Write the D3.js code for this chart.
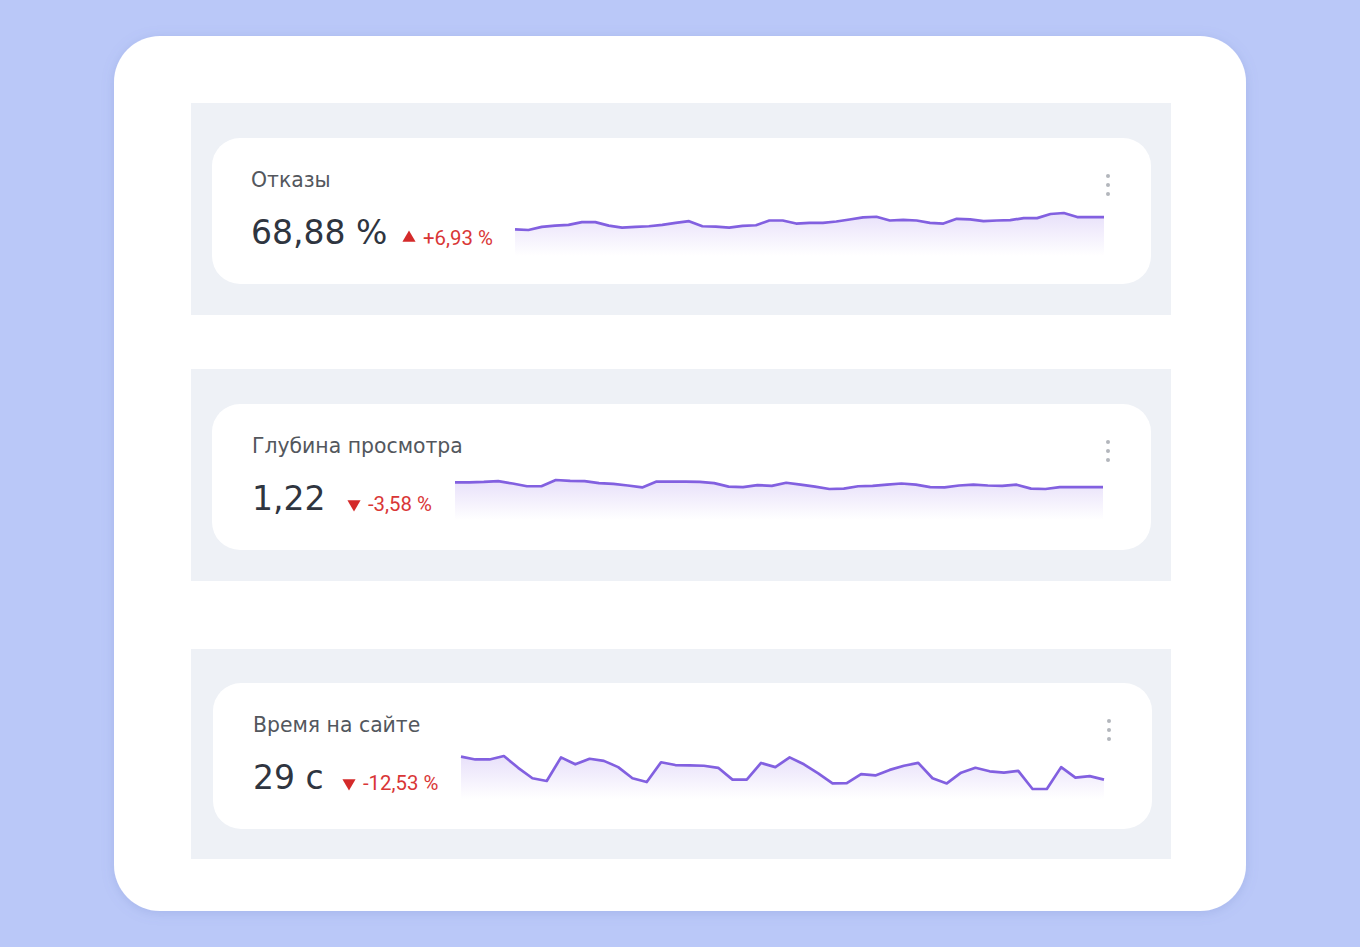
<!DOCTYPE html>
<html><head><meta charset="utf-8">
<script src="https://cdn.jsdelivr.net/npm/d3@7"></script>
<style>
html,body{margin:0;padding:0;background:#bac8f8;}
svg{display:block;}
</style></head>
<body>
<svg id="c" width="1360" height="947"></svg>
<script>
// ---- data ----
const titles = ["Отказы", "Глубина просмотра", "Время на сайте"];
const mainValues = ["68,88 %", "1,22", "29 с"];
const deltas = ["+6,93 %", "-3,58 %", "-12,53 %"];
const deltaUp = [true, false, false];
// sparkline values (relative level)
const bounceSeries = [7,5,14,18,20,28,28,18,12,14,16,20,26,31,16,15,12,17,19,33,33,24,26,26,30,36,42,44,33,35,33,26,24,38,36,31,33,34,40,40,52,55,43,43,43];
const depthSeries = [28,28,29,31,25,18,18,34,32,31,26,24,20,15,30,30,30,29,26,17,16,21,19,27,22,17,11,12,18,19,22,25,22,16,15,20,22,20,19,22,12,11,16,16,16,16];
const timeSeries = [100,92,92,102,68,38,30,98,78,94,88,70,38,27,84,76,75,74,68,34,34,82,70,98,78,52,23,24,50,46,62,74,82,38,23,54,68,58,54,59,7,7,70,40,44,34];
const seriesList = [bounceSeries, depthSeries, timeSeries];

// ---- layout ----
const svg = d3.select("#c");
const defs = svg.append("defs");
const sh = defs.append("filter").attr("id","sh").attr("x","-10%").attr("y","-10%").attr("width","120%").attr("height","120%");
sh.append("feDropShadow").attr("dx",0).attr("dy",2).attr("stdDeviation",6).attr("flood-color","#6a7bc0").attr("flood-opacity",0.25);

svg.append("rect").attr("width",1360).attr("height",947).attr("fill","#bac8f8");
svg.append("rect").attr("x",114).attr("y",36).attr("width",1132).attr("height",875).attr("rx",46).attr("fill","#fff").attr("filter","url(#sh)");

const panels = [
  {py:103, ph:212, cy:138, cx:212, tx:251, sx0:515, sx1:1104, top:213, bot:230, abot:256, dx:401},
  {py:369, ph:212, cy:404, cx:212, tx:252, sx0:455, sx1:1103, top:480, bot:489, abot:520, dx:346},
  {py:649, ph:210, cy:683, cx:213, tx:253, sx0:461, sx1:1104, top:756, bot:789, abot:799, dx:341}
];

const titleFont = "'DejaVu Sans', sans-serif";
const font = "Roboto, 'Noto Sans', sans-serif";
const lineColor = "#8260e0";

panels.forEach((p,i)=>{
  const g = svg.append("g");
  g.append("rect").attr("x",191).attr("y",p.py).attr("width",980).attr("height",p.ph).attr("fill","#eef1f6");
  g.append("rect").attr("x",p.cx).attr("y",p.cy).attr("width",939).attr("height",146).attr("rx",28).attr("fill","#fff");

  g.append("text").attr("x",p.tx).attr("y",p.cy+49).attr("font-family",titleFont).attr("font-size",20.4)
    .attr("fill","#53575d").text(titles[i]);
  g.append("text").attr("x",p.tx).attr("y",p.cy+106).attr("font-family",titleFont).attr("font-size",33)
    .attr("fill","#2f3540").text(mainValues[i]);

  // delta
  const tri = d3.symbol().type(d3.symbolTriangle).size(75)();
  g.append("path").attr("d",tri)
    .attr("transform",`translate(${p.dx+8},${p.cy+100}) rotate(${deltaUp[i]?0:180})`)
    .attr("fill","#d42a2a");
  g.append("text").attr("x",p.dx+22).attr("y",p.cy+107).attr("font-family",font).attr("font-size",21)
    .attr("fill","#d93636").attr("transform",`translate(${p.dx+22},0) scale(0.97,1) translate(${-(p.dx+22)},0)`)
    .text(deltas[i]);

  // kebab menu
  [0,9,18].forEach(d=>g.append("circle").attr("cx",p.cx+896).attr("cy",p.cy+38+d).attr("r",2).attr("fill","#b3b6bc"));

  // sparkline
  const data = seriesList[i];
  const x = d3.scaleLinear().domain([0,data.length-1]).range([p.sx0,p.sx1]);
  const y = d3.scaleLinear().domain(d3.extent(data)).range([p.bot,p.top]);
  const gid = "gr"+i;
  const gr = defs.append("linearGradient").attr("id",gid).attr("gradientUnits","userSpaceOnUse")
    .attr("x1",0).attr("x2",0).attr("y1",p.top).attr("y2",p.abot);
  gr.append("stop").attr("offset",0).attr("stop-color","#8a63e6").attr("stop-opacity",0.2);
  gr.append("stop").attr("offset",1).attr("stop-color","#8a63e6").attr("stop-opacity",0);
  const area = d3.area().x((d,j)=>x(j)).y0(p.abot).y1(d=>y(d));
  const line = d3.line().x((d,j)=>x(j)).y(d=>y(d));
  g.append("path").datum(data).attr("d",area).attr("fill",`url(#${gid})`);
  g.append("path").datum(data).attr("d",line).attr("fill","none").attr("stroke",lineColor)
    .attr("stroke-width",2.7).attr("stroke-linejoin","round");
});
</script>
</body></html>
